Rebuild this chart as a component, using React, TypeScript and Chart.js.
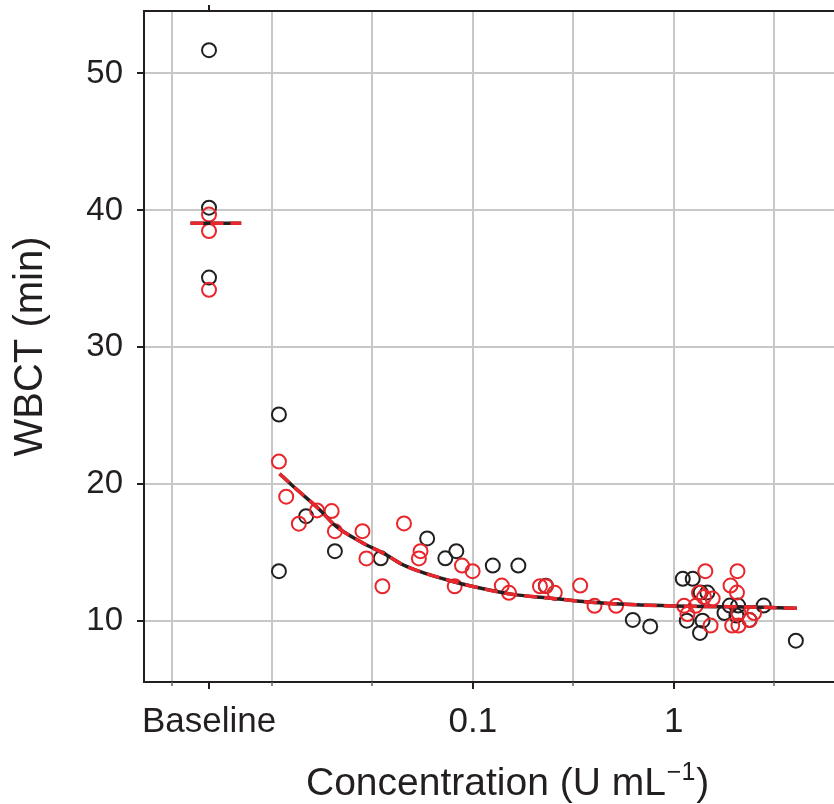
import React, { useEffect, useRef } from 'react';
import { Chart, registerables } from 'chart.js';

Chart.register(...registerables);

const INK = '#231f20';
const RED = '#e8262b';
const GRID = '#c8c8c8';
const FONT = "'Liberation Sans', Arial, Helvetica, sans-serif";

// "Baseline" is placed on the log concentration axis at this position
const BASELINE_X = 0.00486;

// x-axis tick values (U/mL) and their labels
const X_TICKS = [0.003162, BASELINE_X, 0.01, 0.03162, 0.1, 0.3162, 1, 3.162];
const X_TICK_LABELS = ['', 'Baseline', '', '', '0.1', '', '1', ''];
const Y_TICKS = [10, 20, 30, 40, 50];

// Axis titles (x title: main part, superscript, closing part)
const X_TITLE_MAIN = 'Concentration (U mL';
const X_TITLE_SUP = '−1';
const X_TITLE_END = ')';
const Y_TITLE = 'WBCT (min)';

// Baseline observations (WBCT, min)
const blackBaselineWbct = [51.7, 40.2, 35.1];
const redBaselineWbct = [39.7, 38.5, 34.2];

// Black series
const blackConc = [0.01083, 0.01083, 0.01479, 0.02057, 0.0348, 0.0592, 0.0729, 0.0827, 0.1256, 0.1684, 0.2307, 0.625, 0.763, 1.108, 1.242, 1.36, 1.468, 1.16, 1.39, 1.35, 1.9, 2.09, 1.787, 2.05, 2.38, 2.8, 4.05];
const blackWbct = [25.1, 13.66, 17.68, 15.12, 14.6, 16.05, 14.6, 15.12, 14.07, 14.07, 12.6, 10.1, 9.63, 13.1, 13.1, 12.1, 12.1, 10.05, 10.05, 9.15, 11.15, 11.15, 10.61, 10.42, 10.1, 11.15, 8.59];

// Red series
const redConc = [0.01083, 0.01177, 0.01361, 0.01676, 0.01982, 0.02057, 0.02821, 0.02952, 0.03546, 0.0454, 0.05486, 0.05385, 0.08118, 0.08826, 0.0997, 0.1393, 0.1512, 0.2156, 0.2307, 0.2556, 0.342, 0.403, 0.516, 1.435, 2.074, 1.915, 2.062, 1.334, 1.413, 1.561, 1.125, 1.285, 1.169, 1.524, 1.952, 2.098, 2.098, 2.387, 2.51];
const redWbct = [21.66, 19.1, 17.13, 18.1, 18.05, 16.58, 16.58, 14.59, 12.56, 17.15, 15.12, 14.59, 12.56, 14.07, 13.66, 12.61, 12.08, 12.56, 12.56, 12.08, 12.61, 11.13, 11.13, 13.66, 13.66, 12.61, 12.1, 12.08, 11.77, 11.66, 11.13, 11.13, 10.53, 9.69, 9.69, 9.69, 10.61, 10.09, 10.61];

// Fitted curve
const fitConc = [0.01091, 0.0127, 0.01722, 0.0208, 0.02818, 0.03681, 0.04457, 0.05598, 0.0787, 0.09886, 0.1614, 0.2371, 0.3882, 0.6124, 1.0035, 1.914, 2.793, 4.093];
const fitWbct = [20.78, 19.88, 18.17, 16.95, 15.74, 14.88, 14.15, 13.58, 12.93, 12.56, 11.95, 11.71, 11.39, 11.22, 11.12, 11.07, 11.02, 10.95];

// Baseline mean segment
const baseMeanConc = [0.00393, 0.00703];
const baseMeanWbct = [39.07, 39.07];

const X_MIN = 0.002307;
const X_MAX = 6.27;
const Y_MIN = 5.57;
const Y_MAX = 54.56;

const pts = (xs: number[], ys: number[]) => xs.map((x, i) => ({ x, y: ys[i] }));

const zeroPad = (s: any) => {
  s.paddingTop = 0;
  s.paddingBottom = 0;
  s.paddingLeft = 0;
  s.paddingRight = 0;
};

const framePlugin = {
  id: 'frame',
  afterDraw(chart: any) {
    const { ctx, chartArea, scales } = chart;
    const xs = scales.x;
    ctx.save();
    ctx.strokeStyle = INK;
    ctx.lineWidth = 2;
    ctx.beginPath();
    ctx.moveTo(chartArea.left - 1, chartArea.top);
    ctx.lineTo(chartArea.right, chartArea.top);
    ctx.stroke();
    X_TICKS.forEach((v, i) => {
      const px = Math.round(xs.getPixelForValue(v));
      const major = X_TICK_LABELS[i] !== '';
      ctx.strokeStyle = major ? INK : '#666';
      ctx.lineWidth = major ? 2 : 1.5;
      ctx.beginPath();
      ctx.moveTo(px, chartArea.bottom);
      ctx.lineTo(px, chartArea.bottom + (major ? 7 : 4));
      ctx.stroke();
    });
    const bx = Math.round(xs.getPixelForValue(BASELINE_X));
    ctx.strokeStyle = INK;
    ctx.lineWidth = 2;
    ctx.beginPath();
    ctx.moveTo(bx, chartArea.top);
    ctx.lineTo(bx, chartArea.top - 6);
    ctx.stroke();

    // x-axis title with a real superscript
    const baseY = 795;
    let tx = 306;
    ctx.fillStyle = INK;
    ctx.textBaseline = 'alphabetic';
    ctx.textAlign = 'left';
    ctx.font = `39px ${FONT}`;
    ctx.fillText(X_TITLE_MAIN, tx, baseY);
    tx += ctx.measureText(X_TITLE_MAIN).width + 1;
    ctx.font = `25px ${FONT}`;
    ctx.fillText(X_TITLE_SUP, tx, baseY - 15);
    tx += ctx.measureText(X_TITLE_SUP).width + 1;
    ctx.font = `39px ${FONT}`;
    ctx.fillText(X_TITLE_END, tx, baseY);
    ctx.restore();
  },
};

export default function App() {
  const ref = useRef<HTMLCanvasElement | null>(null);

  useEffect(() => {
    if (!ref.current) return;
    const circle = (color: string) => ({
      type: 'scatter' as const,
      showLine: false,
      pointStyle: 'circle',
      pointRadius: 7,
      pointBorderWidth: 2,
      pointBorderColor: color,
      pointBackgroundColor: 'rgba(0,0,0,0)',
      borderColor: color,
      backgroundColor: 'rgba(0,0,0,0)',
    });
    const line = (color: string, dash: number[]) => ({
      type: 'line' as const,
      borderColor: color,
      borderWidth: 3.5,
      borderDash: dash,
      pointRadius: 0,
      fill: false,
      cubicInterpolationMode: 'monotone' as const,
    });

    const chart = new Chart(ref.current, {
      type: 'scatter',
      data: {
        datasets: [
          { ...line(RED, [13, 7]), data: pts(fitConc, fitWbct), order: 0 },
          { ...line(INK, []), data: pts(fitConc, fitWbct), order: 1 },
          { ...line(RED, [13, 7]), data: pts(baseMeanConc, baseMeanWbct), order: 0 },
          { ...line(INK, []), data: pts(baseMeanConc, baseMeanWbct), order: 1 },
          {
            ...circle(RED),
            data: [
              ...redBaselineWbct.map((y) => ({ x: BASELINE_X, y })),
              ...pts(redConc, redWbct),
            ],
            order: 2,
          },
          {
            ...circle(INK),
            data: [
              ...blackBaselineWbct.map((y) => ({ x: BASELINE_X, y })),
              ...pts(blackConc, blackWbct),
            ],
            order: 3,
          },
        ] as any,
      },
      options: {
        animation: false,
        responsive: false,
        devicePixelRatio: 1,
        layout: { autoPadding: false, padding: { top: 11, right: 0, bottom: 0, left: 0 } },
        plugins: { legend: { display: false }, tooltip: { enabled: false } },
        scales: {
          x: {
            type: 'logarithmic',
            min: X_MIN,
            max: X_MAX,
            bounds: 'data',
            afterBuildTicks: (s: any) => {
              s.ticks = X_TICKS.map((value) => ({ value }));
            },
            afterFit: (s: any) => {
              s.height = 122;
              zeroPad(s);
            },
            grid: {
              color: (c: any) => (c.index === 1 ? 'rgba(0,0,0,0)' : GRID),
              lineWidth: 2,
              drawTicks: false,
            },
            border: { color: INK, width: 2 },
            ticks: {
              autoSkip: false,
              maxRotation: 0,
              minRotation: 0,
              padding: 19,
              color: INK,
              font: { family: FONT, size: 35, lineHeight: 1.2 },
              callback: (_v: any, i: number) => X_TICK_LABELS[i] ?? '',
            },
            title: { display: false },
          },
          y: {
            type: 'linear',
            min: Y_MIN,
            max: Y_MAX,
            bounds: 'data',
            afterBuildTicks: (s: any) => {
              s.ticks = Y_TICKS.map((value) => ({ value }));
            },
            afterFit: (s: any) => {
              s.width = 144;
              zeroPad(s);
            },
            grid: {
              color: GRID,
              lineWidth: 2,
              drawTicks: true,
              tickLength: 7,
              tickColor: INK,
              tickWidth: 2,
            },
            border: { color: INK, width: 2 },
            ticks: {
              padding: 14,
              color: INK,
              font: { family: FONT, size: 33, lineHeight: 1.2 },
              callback: (v: any) => String(v),
            },
            title: {
              display: true,
              text: Y_TITLE,
              color: INK,
              font: { family: FONT, size: 40, lineHeight: 1.2 },
              padding: { top: 7, bottom: 0 },
            },
          },
        },
      },
      plugins: [framePlugin],
    } as any);
    return () => chart.destroy();
  }, []);

  return (
    <div style={{ position: 'absolute', left: 0, top: 0, width: 834, height: 804 }}>
      <canvas ref={ref} width={834} height={804} style={{ display: 'block' }} />
    </div>
  );
}
